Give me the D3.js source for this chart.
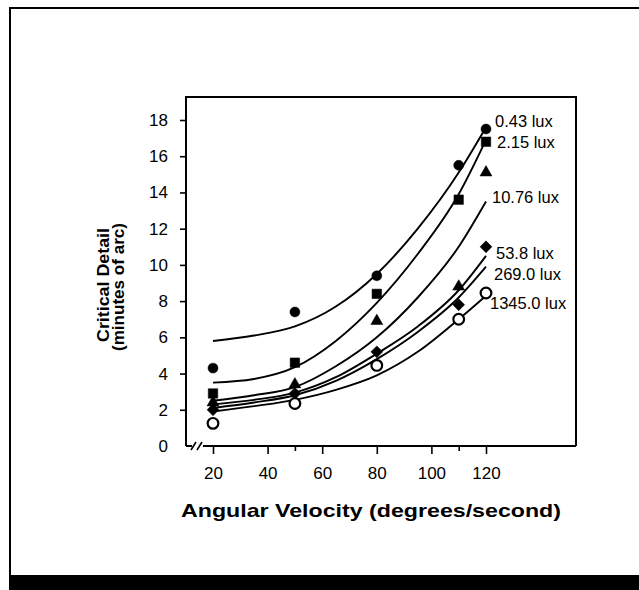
<!DOCTYPE html>
<html>
<head>
<meta charset="utf-8">
<script src="https://cdn.jsdelivr.net/npm/d3@7"></script>
<style>
body{margin:0;background:#fff;}
text{font-family:"Liberation Sans",Arial,Helvetica,sans-serif;fill:#000;}
</style>
</head>
<body>
<script>
// measured velocities
var velocities = [20, 50, 80, 110, 120];
var luxLabels = ["0.43 lux","2.15 lux","10.76 lux","53.8 lux","269.0 lux","1345.0 lux"];
// observed critical detail (minutes of arc), null = no marker visible
var obs043  = [4.3, 7.4, 9.4, 15.5, 17.5];
var obs215  = [2.9, 4.6, 8.4, 13.6, 16.8];
var obs1076 = [2.4, 3.4, 6.9, 8.8, 15.1];
var obs538  = [2.0, 2.9, 5.2, 7.8, 11.0];
var obs2690 = [null, null, null, null, null];
var obs13450= [1.25, 2.35, 4.45, 7.0, 8.45];
// fitted curves
var fitX     = [20, 35, 50, 65, 80, 95, 110, 120];
var fit043   = [5.8, 6.1, 6.6, 7.7, 9.5, 12.0, 15.1, 17.6];
var fit215   = [3.5, 3.7, 4.35, 5.8, 7.9, 10.6, 13.9, 16.9];
var fit1076  = [2.5, 2.8, 3.25, 4.4, 6.0, 8.2, 11.0, 13.5];
var fit538   = [2.3, 2.55, 2.95, 3.8, 5.1, 6.6, 8.6, 10.5];
var fit2690  = [2.1, 2.4, 2.8, 3.6, 4.8, 6.3, 8.2, 9.9];
var fit13450 = [1.9, 2.2, 2.55, 3.1, 3.9, 5.2, 7.0, 8.3];
var xTicks = [20, 40, 60, 80, 100, 120];
var xMinorTicks = [50, 110];
var yTicks = [0, 2, 4, 6, 8, 10, 12, 14, 16, 18];

var series = [
  {label:luxLabels[0], obs:obs043,  fit:fit043,  shape:"circle"},
  {label:luxLabels[1], obs:obs215,  fit:fit215,  shape:"square"},
  {label:luxLabels[2], obs:obs1076, fit:fit1076, shape:"triangle"},
  {label:luxLabels[3], obs:obs538,  fit:fit538,  shape:"diamond"},
  {label:luxLabels[4], obs:obs2690, fit:fit2690, shape:"circle"},
  {label:luxLabels[5], obs:obs13450,fit:fit13450,shape:"open"}
];
// label placement (px)
var labelPos = [[495,127],[497,148],[492,203],[496,259],[494,280],[490,309]];

var W = 639, H = 590;
var box = {left:186, top:97, right:576, bottom:446};

var svg = d3.select("body").append("svg")
    .attr("width", W).attr("height", H);

// outer frame + black band
svg.append("rect").attr("x",10).attr("y",8).attr("width",W).attr("height",568)
   .attr("fill","none").attr("stroke","#000").attr("stroke-width",2);
svg.append("rect").attr("x",9).attr("y",576).attr("width",W).attr("height",14).attr("fill","#000");

var x = d3.scaleLinear().domain([20,120]).range([213,486]);
var y = d3.scaleLinear().domain([0,18]).range([446,120]);

// plot box (left, top, right)
svg.append("path")
   .attr("d","M"+box.left+","+box.bottom+"V"+box.top+"H"+box.right+"V"+box.bottom)
   .attr("fill","none").attr("stroke","#000").attr("stroke-width",2);
// bottom axis line with break
svg.append("path")
   .attr("d","M"+box.left+","+box.bottom+"H192 M203,"+box.bottom+"H"+box.right)
   .attr("fill","none").attr("stroke","#000").attr("stroke-width",2);
svg.append("path")
   .attr("d","M191,450L196,442 M197,450L202,442")
   .attr("fill","none").attr("stroke","#000").attr("stroke-width",1.6);

// y axis
var yAxis = svg.append("g").attr("transform","translate("+box.left+",0)")
   .call(d3.axisLeft(y).tickValues(yTicks).tickSize(6).tickPadding(12).tickFormat(d3.format("d")));
yAxis.select(".domain").remove();
yAxis.selectAll(".tick line").attr("stroke-width",1.6)
   .filter(function(d){return d===0;}).remove();
yAxis.selectAll("text").style("font-size","17px").attr("fill","#000");

// x axis
var xAxis = svg.append("g").attr("transform","translate(0,"+box.bottom+")")
   .call(d3.axisBottom(x).tickValues(xTicks).tickSize(8).tickPadding(13));
xAxis.select(".domain").remove();
xAxis.selectAll(".tick line").attr("stroke-width",1.6);
xAxis.selectAll("text").style("font-size","17px").attr("fill","#000");
var xMinor = svg.append("g").attr("transform","translate(0,"+box.bottom+")")
   .call(d3.axisBottom(x).tickValues(xMinorTicks).tickSize(5).tickFormat(""));
xMinor.select(".domain").remove();
xMinor.selectAll(".tick line").attr("stroke-width",1.6);

// titles
svg.append("text").attr("x",371).attr("y",517).attr("text-anchor","middle")
   .attr("textLength",380).attr("lengthAdjust","spacingAndGlyphs")
   .style("font-size","19px").style("font-weight","bold")
   .text("Angular Velocity (degrees/second)");
svg.append("text").attr("transform","translate(109,285) rotate(-90)")
   .attr("text-anchor","middle").attr("textLength",114).attr("lengthAdjust","spacingAndGlyphs")
   .style("font-size","17px").style("font-weight","bold").text("Critical Detail");
svg.append("text").attr("transform","translate(124,287) rotate(-90)")
   .attr("text-anchor","middle").attr("textLength",128).attr("lengthAdjust","spacingAndGlyphs")
   .style("font-size","17px").style("font-weight","bold").text("(minutes of arc)");

// fitted curves
var line = d3.line()
   .x(function(d,i){return x(fitX[i]);})
   .y(function(d){return y(d);})
   .curve(d3.curveMonotoneX);
svg.selectAll(".fit").data(series).enter().append("path")
   .attr("class","fit")
   .attr("d",function(s){return line(s.fit);})
   .attr("fill","none").attr("stroke","#000").attr("stroke-width",1.9);

// markers
var symbolFor = {
  circle: d3.symbol().type(d3.symbolCircle).size(78),
  square: d3.symbol().type(d3.symbolSquare).size(90),
  triangle: d3.symbol().type(d3.symbolTriangle).size(62),
  diamond: d3.symbol().type(d3.symbolSquare).size(70),
  open: d3.symbol().type(d3.symbolCircle).size(90)
};
series.forEach(function(s){
  var pts = s.obs.map(function(v,i){return {x:velocities[i], v:v};})
                 .filter(function(p){return p.v!==null;});
  svg.selectAll(null).data(pts).enter().append("path")
     .attr("d",symbolFor[s.shape]())
     .attr("transform",function(p){
        return "translate("+x(p.x)+","+y(p.v)+")"+(s.shape==="diamond"?" rotate(45)":"");
     })
     .attr("fill",s.shape==="open"?"#fff":"#000")
     .attr("stroke","#000")
     .attr("stroke-width",s.shape==="open"?2.2:0.5);
});

// curve labels
svg.selectAll(".lux").data(series).enter().append("text")
   .attr("class","lux")
   .attr("x",function(s,i){return labelPos[i][0];})
   .attr("y",function(s,i){return labelPos[i][1];})
   .style("font-size","16.5px")
   .text(function(s){return s.label;});
</script>
</body>
</html>
